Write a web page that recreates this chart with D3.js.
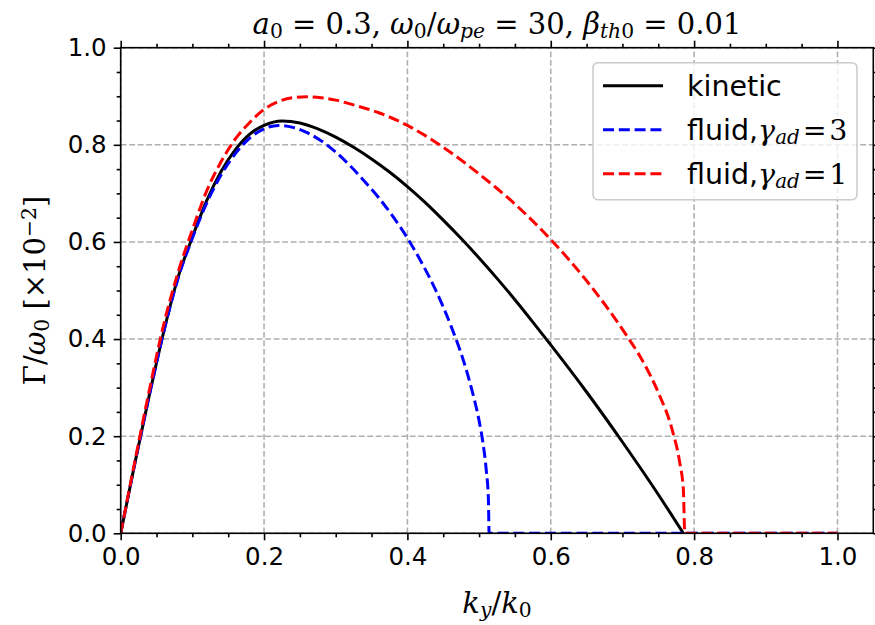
<!DOCTYPE html>
<html>
<head>
<meta charset="utf-8">
<script src="https://cdn.jsdelivr.net/npm/d3@7"></script>
<style>
  body { margin: 0; background: #fff; }
  svg { display: block; }
  .serif { font-family: "DejaVu Serif", "Liberation Serif", serif; }
</style>
</head>
<body>
<div id="chart"></div>
<script>
var width = 875;
var height = 625;
var margin = {top: 47.7, right: 1.7, bottom: 91.7, left: 120.7};

// kinetic curve
var kineticX = [0, 0.02, 0.04, 0.06, 0.08, 0.10, 0.12, 0.14, 0.16, 0.18, 0.20, 0.225, 0.25, 0.275, 0.30, 0.325, 0.35, 0.375, 0.40, 0.425, 0.45, 0.475, 0.50, 0.525, 0.55, 0.575, 0.60, 0.65, 0.70, 0.75, 0.785];
var kineticY = [0, 0.146, 0.285, 0.415, 0.527, 0.61, 0.685, 0.745, 0.79, 0.822, 0.840, 0.849, 0.845, 0.833, 0.816, 0.795, 0.771, 0.744, 0.714, 0.681, 0.645, 0.607, 0.567, 0.525, 0.481, 0.435, 0.388, 0.291, 0.188, 0.08, 0];

// fluid, gamma_ad = 3
var fluid3X = [0, 0.02, 0.04, 0.06, 0.08, 0.10, 0.12, 0.14, 0.16, 0.18, 0.20, 0.22, 0.24, 0.26, 0.28, 0.30, 0.32, 0.34, 0.36, 0.38, 0.40, 0.42, 0.44, 0.46, 0.48, 0.49, 0.50, 0.505, 0.51, 0.513, 0.514, 0.52, 0.6, 0.8, 1.0];
var fluid3Y = [0, 0.146, 0.285, 0.415, 0.525, 0.608, 0.68, 0.738, 0.782, 0.814, 0.833, 0.840, 0.836, 0.825, 0.808, 0.785, 0.757, 0.725, 0.691, 0.652, 0.608, 0.557, 0.499, 0.43, 0.347, 0.295, 0.232, 0.19, 0.13, 0.07, 0, 0, 0, 0, 0];

// fluid, gamma_ad = 1
var fluid1X = [0, 0.02, 0.04, 0.06, 0.08, 0.10, 0.12, 0.14, 0.16, 0.18, 0.20, 0.22, 0.24, 0.26, 0.28, 0.30, 0.33, 0.36, 0.40, 0.45, 0.50, 0.55, 0.60, 0.65, 0.70, 0.73, 0.75, 0.77, 0.78, 0.785, 0.787, 0.8, 0.9, 1.0];
var fluid1Y = [0, 0.15, 0.295, 0.43, 0.537, 0.625, 0.705, 0.765, 0.812, 0.846, 0.873, 0.889, 0.897, 0.899, 0.897, 0.892, 0.88, 0.866, 0.84, 0.795, 0.74, 0.678, 0.605, 0.52, 0.42, 0.35, 0.29, 0.21, 0.145, 0.09, 0, 0, 0, 0];

var xMajor = [0, 0.2, 0.4, 0.6, 0.8, 1.0];
var yMajor = [0, 0.2, 0.4, 0.6, 0.8, 1.0];
var minorTicks = [0.05, 0.1, 0.15, 0.25, 0.3, 0.35, 0.45, 0.5, 0.55, 0.65, 0.7, 0.75, 0.85, 0.9, 0.95];

var series = [
  {name: "kinetic", xs: kineticX, ys: kineticY, color: "#000000", dash: null},
  {name: "fluid3", xs: fluid3X, ys: fluid3Y, color: "#0000ff", dash: "11,4.8"},
  {name: "fluid1", xs: fluid1X, ys: fluid1Y, color: "#ff0000", dash: "11,4.8"}
];

var x = d3.scaleLinear().domain([0, 1.05]).range([margin.left, width - margin.right]);
var y = d3.scaleLinear().domain([0, 1]).range([height - margin.bottom, margin.top]);

var svg = d3.select("#chart").append("svg")
    .attr("width", width)
    .attr("height", height);

// grid
var grid = svg.append("g").attr("class", "grid");
grid.selectAll("line.gx").data(xMajor).enter().append("line")
    .attr("x1", d => x(d)).attr("x2", d => x(d))
    .attr("y1", y(0)).attr("y2", y(1));
grid.selectAll("line.gy").data(yMajor).enter().append("line")
    .attr("y1", d => y(d)).attr("y2", d => y(d))
    .attr("x1", x(0)).attr("x2", x(1.05));
grid.selectAll("line")
    .attr("stroke", "#b0b0b0")
    .attr("stroke-width", 1.6)
    .attr("stroke-dasharray", "5.9,2.6");

// curves
var line = d3.line()
    .x(d => x(d[0]))
    .y(d => y(d[1]))
    .curve(d3.curveMonotoneX);

svg.append("defs").append("clipPath").attr("id", "clip")
  .append("rect")
    .attr("x", x(0)).attr("y", y(1))
    .attr("width", x(1.05) - x(0)).attr("height", y(0) - y(1));

svg.append("g").attr("clip-path", "url(#clip)")
  .selectAll("path")
  .data(series)
  .enter()
  .append("path")
    .attr("d", d => line(d3.zip(d.xs, d.ys)))
    .attr("fill", "none")
    .attr("stroke", d => d.color)
    .attr("stroke-width", 3)
    .attr("stroke-dasharray", d => d.dash);

// axes
function styleAxis(g) {
  g.select(".domain").remove();
  g.selectAll(".tick line").attr("stroke", "#000").attr("stroke-width", 1.6);
  g.selectAll("text")
    .attr("fill", "#000")
    .style("font-family", "'DejaVu Sans', sans-serif")
    .style("font-size", "24.5px");
}

svg.append("g")
    .attr("transform", "translate(0," + y(0) + ")")
    .call(d3.axisBottom(x).tickValues(xMajor).tickSize(7).tickPadding(7).tickFormat(d3.format(".1f")))
    .call(styleAxis)
    .selectAll("text").attr("dy", "0.71em");
svg.append("g")
    .attr("transform", "translate(0," + y(0) + ")")
    .call(d3.axisBottom(x).tickValues(minorTicks).tickSize(4).tickFormat(""))
    .call(styleAxis);
svg.append("g")
    .attr("transform", "translate(0," + y(1) + ")")
    .call(d3.axisTop(x).tickValues(xMajor).tickSize(7).tickFormat(""))
    .call(styleAxis);
svg.append("g")
    .attr("transform", "translate(0," + y(1) + ")")
    .call(d3.axisTop(x).tickValues(minorTicks).tickSize(4).tickFormat(""))
    .call(styleAxis);

svg.append("g")
    .attr("transform", "translate(" + x(0) + ",0)")
    .call(d3.axisLeft(y).tickValues(yMajor).tickSize(7).tickPadding(7).tickFormat(d3.format(".1f")))
    .call(styleAxis);
svg.append("g")
    .attr("transform", "translate(" + x(0) + ",0)")
    .call(d3.axisLeft(y).tickValues(minorTicks).tickSize(4).tickFormat(""))
    .call(styleAxis);
svg.append("g")
    .attr("transform", "translate(" + x(1.05) + ",0)")
    .call(d3.axisRight(y).tickValues(yMajor).tickSize(7).tickFormat(""))
    .call(styleAxis);
svg.append("g")
    .attr("transform", "translate(" + x(1.05) + ",0)")
    .call(d3.axisRight(y).tickValues(minorTicks).tickSize(4).tickFormat(""))
    .call(styleAxis);

// frame
svg.append("rect")
    .attr("x", x(0)).attr("y", y(1))
    .attr("width", x(1.05) - x(0)).attr("height", y(0) - y(1))
    .attr("fill", "none").attr("stroke", "#000").attr("stroke-width", 1.6);

// math text helper: parts are [text, italic, shift]
function mathText(sel, parts) {
  parts.forEach(function(p) {
    var t = sel.append("tspan").text(p[0]);
    if (p[1]) t.attr("font-style", "italic");
    if (p[2] === "sub") t.attr("font-size", "0.7em").attr("baseline-shift", "-22%");
    if (p[2] === "sup") t.attr("font-size", "0.7em").attr("baseline-shift", "45%");
  });
}

// title
var title = svg.append("text").attr("class", "serif")
    .attr("x", (x(0) + x(1.05)) / 2).attr("y", 34)
    .attr("text-anchor", "middle")
    .style("font-size", "29px");
mathText(title, [
  ["a", true], ["0", false, "sub"], [" = 0.3, ", false],
  ["ω", true], ["0", false, "sub"], ["/", false], ["ω", true], ["pe", true, "sub"],
  [" = 30, ", false],
  ["β", true], ["th", true, "sub"], ["0", false, "sub"], [" = 0.01", false]
]);

// x label
var xl = svg.append("text").attr("class", "serif")
    .attr("x", (x(0) + x(1.05)) / 2).attr("y", 613)
    .attr("text-anchor", "middle")
    .style("font-size", "29px");
mathText(xl, [["k", true], ["y", true, "sub"], ["/", false], ["k", true], ["0", false, "sub"]]);

// y label
var yl = svg.append("text").attr("class", "serif")
    .attr("transform", "translate(45," + ((y(0) + y(1)) / 2) + ") rotate(-90)")
    .attr("text-anchor", "middle")
    .style("font-size", "29px");
mathText(yl, [["Γ/", false], ["ω", true], ["0", false, "sub"], [" [×10", false], ["−2", false, "sup"], ["]", false]]);

// legend
var lg = svg.append("g").attr("transform", "translate(593,62.7)");
lg.append("rect")
    .attr("width", 264).attr("height", 137).attr("rx", 5)
    .attr("fill", "#fff").attr("fill-opacity", 0.8)
    .attr("stroke", "#cccccc").attr("stroke-width", 1.6);

var legendLabels = [
  [["kinetic", false]],
  [["fluid,", false], ["γ", true, "math"], ["ad", true, "sub"], ["\u200a=\u200a3", false, "math"]],
  [["fluid,", false], ["γ", true, "math"], ["ad", true, "sub"], ["\u200a=\u200a1", false, "math"]]
];

var rows = lg.selectAll("g.row").data(series).enter().append("g")
    .attr("transform", (d, i) => "translate(0," + (23 + i * 44) + ")");
rows.append("line")
    .attr("x1", 10).attr("x2", 70)
    .attr("stroke", d => d.color).attr("stroke-width", 3)
    .attr("stroke-dasharray", d => d.dash);
rows.append("text")
    .attr("x", 94).attr("y", 10)
    .style("font-size", "28.5px")
    .each(function(d, i) {
      var t = d3.select(this);
      legendLabels[i].forEach(function(p) {
        var s = t.append("tspan").text(p[0]);
        if (p[2] === "math" || p[2] === "sub") s.attr("class", "serif");
        else s.style("font-family", "'DejaVu Sans', sans-serif");
        if (p[1]) s.attr("font-style", "italic");
        if (p[2] === "sub") s.attr("font-size", "0.7em").attr("baseline-shift", "-22%");
      });
    });
</script>
</body>
</html>
